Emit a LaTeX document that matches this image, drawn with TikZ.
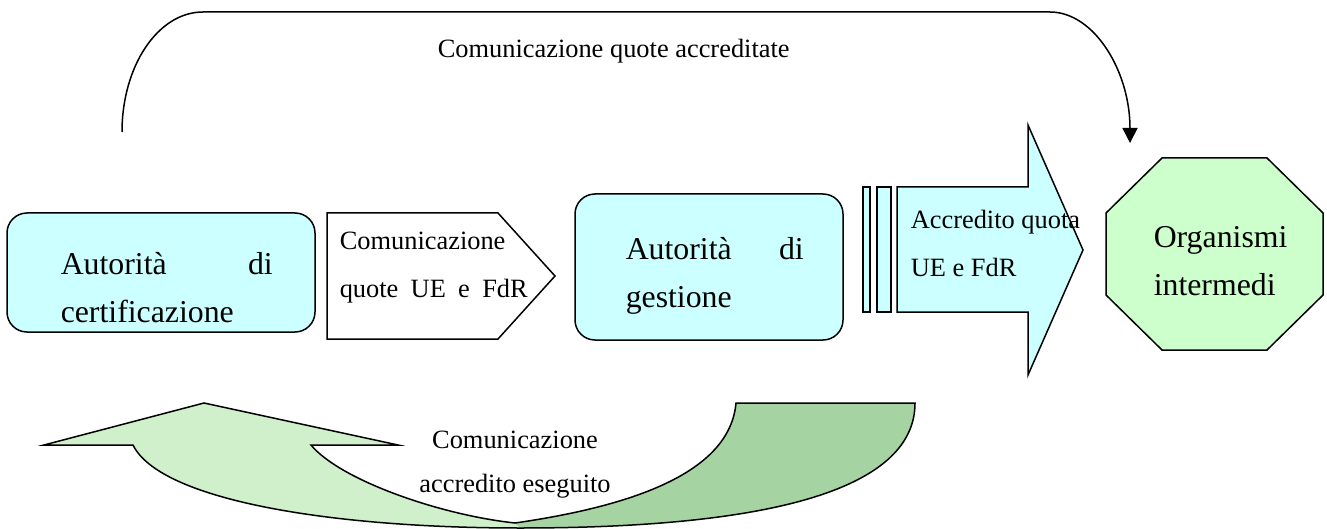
\documentclass[tikz,border=0pt]{standalone}
\usepackage{fontspec}
\setmainfont{Liberation Serif}
\usetikzlibrary{arrows.meta}
\definecolor{boxcyan}{HTML}{CCFFFF}
\definecolor{boxgreen}{HTML}{CCFFCC}
\definecolor{lightgreen}{HTML}{CFF0CA}
\definecolor{darkgreen}{HTML}{A5D4A2}
\newcommand{\smallfnt}{\fontsize{13.2}{24.5}\selectfont}
\newcommand{\bigfnt}{\fontsize{15.9}{24}\selectfont}

\begin{document}
\begin{tikzpicture}[x=0.5pt, y=-0.5pt, line width=0.75pt,
  every node/.style={inner sep=0pt},
  rbox/.style={draw, fill=boxcyan, rounded corners=10pt},
  txt/.style={anchor=base west, align=left}]
  \useasboundingbox (0,0) rectangle (1327,529);

  % autorita di certificazione
  \node[rbox, minimum width=154pt, minimum height=59.5pt] (ac) at (161,272.5) {};
  \node[txt, font=\bigfnt] (actext) at (60,322)
    {\makebox[106pt][s]{Autorità di}\\certificazione};

  % comunicazione quote
  \draw[fill=white] (327,213) -- (498,213) -- (555,276) -- (498,339) -- (327,339) -- cycle;
  \node[txt, font=\smallfnt] (cqtext) at (339,298)
    {Comunicazione\\\makebox[94pt][s]{quote UE e FdR}};

  % autorita di gestione
  \node[rbox, minimum width=134pt, minimum height=73pt] (ag) at (709,267) {};
  \node[txt, font=\bigfnt] (agtext) at (625,307)
    {\makebox[89pt][s]{Autorità di}\\gestione};

  % accredito quota
  \draw[fill=boxcyan] (863,187) rectangle (870,312);
  \draw[fill=boxcyan] (877,187) rectangle (891,312);
  \draw[fill=boxcyan] (897,187) -- (1028,187) -- (1028,125) -- (1083,250)
    -- (1028,375) -- (1028,312) -- (897,312) -- cycle;
  \node[txt, font=\smallfnt] (aqtext) at (910,277) {Accredito quota\\UE e FdR};

  % organismi intermedi
  \draw[fill=boxgreen] (1162,158) -- (1267,158) -- (1323,213) -- (1323,295)
    -- (1267,350) -- (1162,350) -- (1106,295) -- (1106,213) -- cycle;
  \node[txt, font=\bigfnt] (oi) at (1153,295) {Organismi\\intermedi};

  % quote accreditate
  \coordinate (qstart) at (122,132);
  \coordinate (qend) at (1130,143);
  \draw[-{Triangle[length=7.5pt,width=7.5pt]}] (qstart) .. controls (122,66) and (158,12) .. (203,12)
    -- (1050,12) .. controls (1094,12) and (1130,71) .. (qend);
  \node[txt, font=\smallfnt] (qatext) at (437,58) {Comunicazione quote accreditate};

  % accredito eseguito
  \fill[lightgreen] (204,403) -- (398,445) -- (311,445) .. controls (340,480) and (440,515) .. (515,523)
    .. controls (640,505) and (730,470) .. (736,403) -- (915,403)
    .. controls (915,480) and (800,528) .. (520,528) .. controls (330,528) and (160,500) .. (133,445)
    -- (44,445) -- cycle;
  \fill[darkgreen] (515,523) .. controls (640,505) and (730,470) .. (736,403) -- (915,403)
    .. controls (915,480) and (800,528) .. (520,528) -- cycle;
  \draw (204,403) -- (398,445) -- (311,445) .. controls (340,480) and (440,515) .. (515,523)
    .. controls (640,505) and (730,470) .. (736,403) -- (915,403)
    .. controls (915,480) and (800,528) .. (520,528) .. controls (330,528) and (160,500) .. (133,445)
    -- (44,445) -- cycle;
  \node[anchor=base, align=center, font={\fontsize{13.2}{22}\selectfont}] (aetext) at (515,492)
    {Comunicazione\\accredito eseguito};
\end{tikzpicture}
\end{document}
